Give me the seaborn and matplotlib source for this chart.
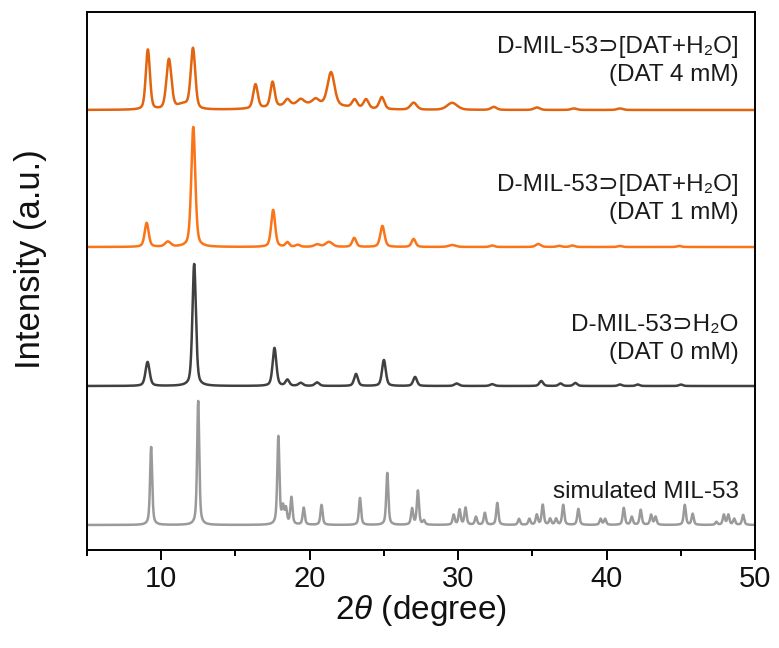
import numpy as np
import pandas as pd
import matplotlib
matplotlib.use("Agg")
import matplotlib.pyplot as plt
import seaborn as sns

# ---------------- data ----------------
# peak positions (2theta, deg), heights (arb. units), FWHM (deg)
dat4_pos = [9.1, 10.52, 11.5, 12.14, 16.35, 17.5, 18.5, 19.4, 20.4, 21.44, 23.03, 23.8, 24.86, 27.0, 29.6, 32.4, 35.3, 37.8, 40.9, 20.0]
dat4_h   = [60,   50,    5,    60,    24,    25,    6,    5,    5,    33,    8,     9,    12,    7,    7,    3,    2.5,  1.5,  1.5,  6]
dat4_w   = [0.33, 0.40,  1.0,  0.36,  0.36,  0.34,  0.4,  0.5,  0.5,  0.55,  0.4,   0.4,  0.4,   0.5,  0.8,  0.45, 0.45, 0.45, 0.45, 5.0]

dat1_pos = [9.02, 10.45, 12.16, 17.54, 18.5, 19.2, 20.5, 21.3, 23.0, 24.9, 27.0, 29.6, 32.3, 35.4, 36.8, 37.7, 40.9, 44.9]
dat1_h   = [24,   5,     120,   37,    4.5,  2,    2.5,  5,    9,    21,   8,    2,    1.5,  3,    1.2,  1.5,  1,    1]
dat1_w   = [0.32, 0.45,  0.32,  0.32,  0.3,  0.35, 0.45, 0.55, 0.32, 0.34, 0.32, 0.55, 0.35, 0.4,  0.35, 0.35, 0.35, 0.35]

dat0_pos = [9.08, 12.22, 17.63, 18.5, 19.4, 20.5, 23.12, 25.0, 27.1, 29.9, 32.3, 35.6, 36.9, 37.9, 40.9, 42.1, 45.0]
dat0_h   = [24,   122,   38,    6,    3,    3.5,  12,    26,   9,    2.5,  1.8,  5,    2.5,  3,    1.5,  1.5,  1.5]
dat0_w   = [0.33, 0.28,  0.3,   0.3,  0.35, 0.35, 0.3,   0.3,  0.3,  0.35, 0.35, 0.3,  0.3,  0.3,  0.3,  0.3,  0.3]

sim_pos = [9.32, 12.49, 17.89, 18.2, 18.4, 18.77, 19.6, 20.8, 23.39, 25.23, 26.9, 27.29, 27.7, 29.7, 30.1, 30.5, 31.2, 31.8,
           32.64, 34.1, 34.8, 35.3, 35.7, 36.2, 36.6, 37.08, 38.1, 39.6, 39.9, 41.16, 41.7, 42.3, 43.0, 43.3, 45.27, 45.8,
           47.4, 47.9, 48.2, 48.6, 49.2]
sim_h   = [78, 124, 88, 16, 15, 27, 17, 20, 27, 52, 16, 34, 4, 10, 15, 17, 8, 12,
           22, 6, 6, 10, 20, 6, 6, 20, 16, 6, 6, 17, 8, 15, 10, 8, 20, 11,
           3, 10, 10, 6, 10]
sim_w   = 0.17

traces = ["simulated MIL-53", "D-MIL-53⊃H₂O\n(DAT 0 mM)",
          "D-MIL-53⊃[DAT+H₂O]\n(DAT 1 mM)", "D-MIL-53⊃[DAT+H₂O]\n(DAT 4 mM)"]
offsets = [25, 164, 303, 440]
colors = ["#9a9a9a", "#404040", "#fb7418", "#e2640f"]
label_y = [58, 211, 351, 489]

x_ticks = [10, 20, 30, 40, 50]

# ---------------- build curves ----------------
x = np.linspace(5, 50, 4501)

def pvoigt(xx, pos, h, w, eta=0.5):
    g = np.exp(-4 * np.log(2) * ((xx - pos) / w) ** 2)
    l = 1.0 / (1.0 + 4 * ((xx - pos) / w) ** 2)
    return h * (eta * l + (1 - eta) * g)

def pattern(pos, h, w, eta):
    if np.isscalar(w):
        w = [w] * len(pos)
    y = np.zeros_like(x)
    for p, hh, ww in zip(pos, h, w):
        y += pvoigt(x, p, hh, ww, eta)
    return y

curves = [pattern(sim_pos, sim_h, sim_w, 0.6),
          pattern(dat0_pos, dat0_h, dat0_w, 0.45),
          pattern(dat1_pos, dat1_h, dat1_w, 0.45),
          pattern(dat4_pos, dat4_h, dat4_w, 0.35)]

frames = []
for name, off, c in zip(traces, offsets, curves):
    frames.append(pd.DataFrame({"x": x, "y": c + off, "trace": name}))
df = pd.concat(frames, ignore_index=True)

# ---------------- plot ----------------
sns.set_style("ticks")
plt.rcParams["font.family"] = ["Liberation Sans", "DejaVu Sans"]
plt.rcParams["mathtext.fontset"] = "custom"
plt.rcParams["mathtext.rm"] = "Liberation Sans"
plt.rcParams["mathtext.it"] = "Liberation Sans:italic"
plt.rcParams["mathtext.fallback"] = "stixsans"
plt.rcParams["text.color"] = "#111111"
plt.rcParams["axes.labelcolor"] = "#111111"
plt.rcParams["xtick.color"] = "black"
plt.rcParams["xtick.labelcolor"] = "#111111"

fig = plt.figure(figsize=(7.79, 6.48), dpi=100)
ax = fig.add_axes([87 / 779, 1 - 550 / 648, (755 - 87) / 779, (550 - 12) / 648])

sns.lineplot(data=df, x="x", y="y", hue="trace", palette=dict(zip(traces, colors)),
             hue_order=traces, ax=ax, linewidth=1.8, legend=False, sort=False, estimator=None)

for name, ly, c in zip(traces, label_y, colors):
    ax.text(48.9, ly, name, ha="right", va="center", multialignment="right",
            fontsize=17.5, color="#1a1a1a", linespacing=1.35)

ax.set_xlim(5, 50)
ax.set_ylim(0, 538)
ax.set_xticks(x_ticks)
ax.set_xticks(np.arange(5, 51, 10), minor=True)
ax.set_yticks([])
ax.tick_params(axis="x", which="major", direction="out", length=7, width=1.4, labelsize=21, pad=4, top=False)
ax.tick_params(axis="x", which="minor", direction="out", length=4, width=1.4, top=False)
for s in ax.spines.values():
    s.set_linewidth(1.4)
    s.set_color("black")
ax.set_xlabel("2$\\mathit{\\theta}$ (degree)", fontsize=24, labelpad=0)
ax.set_ylabel("Intensity (a.u.)", fontsize=25, va="center")
ax.yaxis.set_label_coords(-0.085, 0.54)

fig.savefig("out.png", dpi=100)
